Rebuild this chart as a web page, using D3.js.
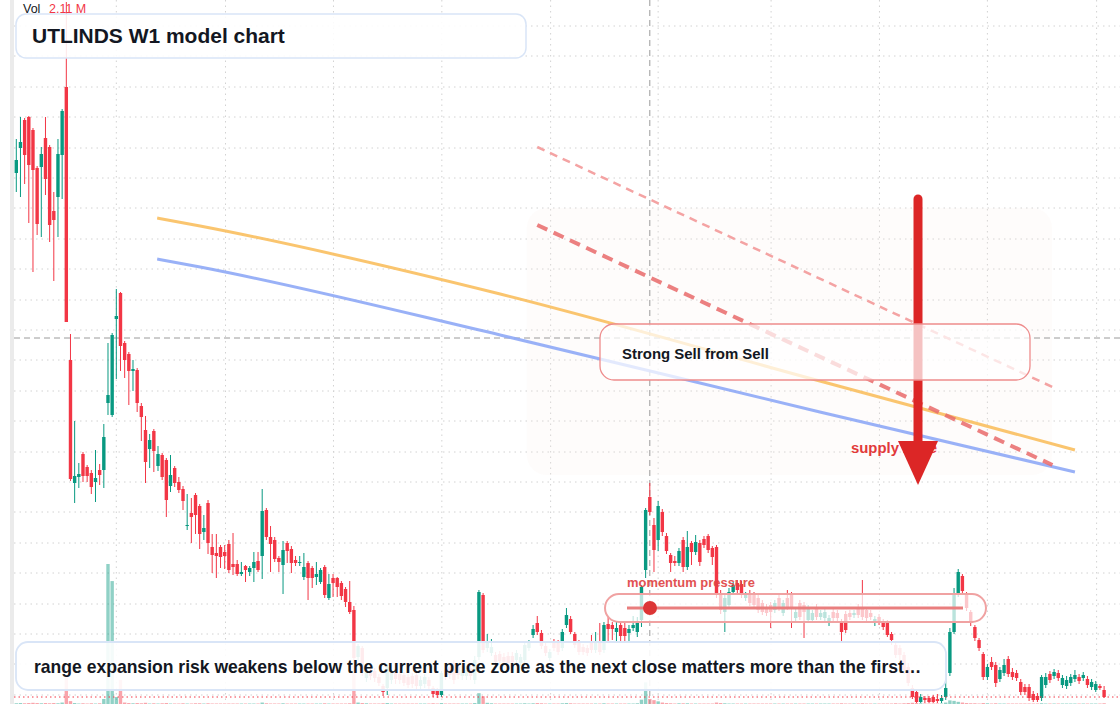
<!DOCTYPE html>
<html>
<head>
<meta charset="utf-8">
<script src="https://cdn.jsdelivr.net/npm/d3@7"></script>
<style>
html, body { margin: 0; padding: 0; background: #fff; }
svg { display: block; font-family: "Liberation Sans", Arial, sans-serif; }
</style>
</head>
<body>
<svg id="chart" width="1120" height="704"></svg>
<script>
// weekly candles
var opens = [
 53.1,55.6,58.4,58.7,57.4,53.6,53.7,56.6,55.7,49.3,
 50.7,54.9,61.7,34.4,22.1,22.7,25.0,23.7,23.1,22.2,
 23.4,23.4,30.1,28.9,38.5,41.1,36.1,35.0,33.3,33.4,
 29.8,27.4,25.5,27.3,23.8,24.9,24.4,21.8,23.6,22.2,
 21.5,17.8,19.1,20.9,19.8,17.2,20.1,15.7,15.1,15.7,
 15.2,16.0,14.0,14.0,13.0,13.8,13.2,13.6,14.3,14.8,
 19.4,16.7,16.4,14.6,13.9,16.1,15.5,14.4,14.1,12.7,
 14.1,13.6,12.7,12.2,13.7,10.6,12.6,12.6,12.1,11.5,
 10.2,9.4,4.7,5.6,2.6,3.2,3.3,2.7,1.8,1.6,
 2.4,3.1,3.0,2.9,2.7,2.8,2.9,1.8,2.0,2.4,
 1.6,1.4,0.9,3.4,3.7,4.1,3.7,2.8,2.8,3.6,
 2.4,4.7,10.9,5.6,5.1,4.9,5.0,4.7,4.8,4.8,
 4.4,4.1,4.4,5.6,6.9,8.1,7.1,5.8,4.6,6.2,
 6.1,5.6,7.9,8.5,7.0,6.1,5.7,5.6,6.2,5.4,
 6.2,5.4,8.0,7.9,7.2,7.9,7.6,7.1,7.6,7.2,
 8.4,13.4,20.7,17.9,16.4,19.2,16.8,14.9,14.3,14.1,
 16.4,13.7,16.1,15.2,16.1,16.5,16.8,15.6,15.7,11.1,
 9.2,9.9,11.2,12.1,12.0,10.6,11.1,10.9,10.6,10.1,
 9.7,9.9,9.4,10.6,9.1,10.6,10.9,8.6,10.1,9.9,
 8.4,8.4,9.7,8.7,8.6,8.1,9.2,9.1,8.2,9.0,
 9.1,8.9,9.7,9.7,9.4,9.1,8.1,8.7,8.2,8.1,
 7.0,5.9,5.6,4.9,3.7,1.6,1.2,0.2,0.6,0.6,
 0.7,0.5,0.3,0.7,3.1,7.2,11.1,12.8,11.0,9.2,
 7.7,6.4,5.0,2.7,4.2,3.9,2.5,3.1,4.5,3.2,
 3.1,2.2,1.7,1.7,1.0,0.8,0.6,1.9,3.0,2.8,
 3.1,1.9,1.8,2.1,2.5,2.7,2.6,2.5,1.7,1.4,
 1.8,1.4];
var highs = [
 56.5,58.7,58.6,58.8,57.6,53.8,55.7,58.7,55.9,51.2,
 56.5,59.5,70.2,37.0,28.3,24.1,25.2,23.9,23.4,25.4,
 24.0,28.0,36.1,37.1,41.5,41.2,36.3,35.2,34.4,33.6,
 30.1,28.8,27.0,27.5,25.8,25.1,24.6,24.9,23.8,22.7,
 21.8,21.0,20.6,21.1,20.0,18.9,20.4,17.0,17.0,15.9,
 15.9,16.4,17.1,14.4,14.2,13.9,13.8,15.2,15.2,21.5,
 19.6,17.8,16.7,14.8,16.3,16.3,15.8,14.8,14.8,15.1,
 14.3,13.8,14.2,13.6,13.9,13.0,13.0,12.7,12.3,11.7,
 12.3,9.8,6.0,5.8,3.6,3.6,3.6,3.0,2.0,4.0,
 3.4,3.4,3.3,3.2,3.0,3.1,3.2,2.8,3.0,2.7,
 1.8,1.6,3.3,4.0,4.0,4.4,4.0,3.8,3.8,4.0,
 4.8,11.4,11.1,7.0,6.5,5.2,5.3,5.1,5.2,5.2,
 5.4,5.0,6.1,6.4,7.9,8.8,7.4,6.1,5.5,6.5,
 6.4,7.5,9.6,8.8,7.2,6.4,6.0,5.9,6.9,7.2,
 8.1,8.2,8.7,8.2,8.2,8.2,8.1,7.9,8.8,8.7,
 11.9,19.6,22.1,18.6,20.3,19.5,17.1,15.1,14.8,15.6,
 16.7,17.3,16.3,16.9,16.4,16.8,17.0,15.8,15.9,11.4,
 10.9,11.6,12.2,12.4,12.3,11.2,11.4,11.2,10.9,10.4,
 10.0,10.2,10.4,10.9,10.4,11.4,11.2,9.5,10.4,10.2,
 9.9,9.4,10.0,9.4,9.5,8.9,9.5,9.4,8.5,9.3,
 9.4,9.4,10.0,12.4,9.7,9.4,8.8,9.0,8.5,8.4,
 7.2,6.1,5.9,5.2,4.1,1.9,1.4,1.0,0.8,0.8,
 0.9,1.0,0.9,3.0,7.6,11.6,13.5,13.0,11.2,9.4,
 7.9,6.6,5.2,4.0,4.7,4.2,3.7,4.5,4.8,3.6,
 3.4,2.5,2.0,2.0,1.3,1.1,2.9,3.1,3.3,3.5,
 3.4,2.9,2.8,3.0,3.4,3.0,3.2,2.8,2.5,2.3,
 2.0,1.8];
var lows = [
 51.2,50.7,52.0,48.1,43.2,46.9,46.7,50.9,46.2,42.3,
 46.7,50.5,38.2,22.3,20.1,21.6,22.2,22.2,21.0,20.2,
 21.9,21.6,28.9,28.7,32.5,33.3,32.6,29.9,31.3,29.2,
 26.3,22.1,23.6,23.2,23.3,22.4,18.7,21.2,21.7,21.1,
 19.4,17.4,16.1,17.0,15.5,16.4,15.0,13.1,12.6,13.6,
 13.5,13.1,12.9,12.8,12.8,12.2,12.8,12.2,13.2,12.5,
 16.4,13.2,14.2,13.2,11.0,14.1,13.1,13.8,13.8,12.4,
 10.4,11.6,11.9,12.0,10.6,10.4,10.7,10.7,10.4,9.7,
 9.0,4.0,4.4,2.8,2.2,2.4,2.2,1.8,0.8,0.9,
 2.0,2.0,2.0,1.8,1.6,1.6,1.4,1.5,1.6,1.4,
 0.7,0.6,0.7,2.4,2.5,2.0,2.5,2.4,2.4,2.4,
 2.0,4.4,5.1,5.2,4.8,3.8,3.9,3.7,3.7,3.8,
 4.1,3.8,4.1,5.3,6.6,6.9,5.5,4.8,4.3,5.3,
 4.9,5.3,7.6,7.0,5.6,4.9,4.9,4.8,5.1,5.1,
 4.9,5.1,6.2,6.4,6.2,6.3,6.3,6.2,7.3,6.7,
 7.7,12.6,18.9,13.2,15.3,16.8,15.0,13.2,13.8,13.8,
 13.2,13.4,13.9,14.9,13.8,15.6,15.1,13.9,10.6,9.0,
 7.2,9.6,10.9,11.1,10.6,10.3,9.8,9.6,9.1,8.9,
 8.8,7.6,9.1,9.3,8.8,9.4,7.6,8.3,8.4,6.6,
 8.1,8.1,8.4,8.4,8.3,7.8,8.3,8.3,6.2,7.1,
 8.4,8.6,8.6,8.4,8.3,8.4,7.8,7.9,7.4,6.7,
 5.9,4.6,4.4,3.0,1.8,0.5,0.1,0.1,0.1,0.1,
 0.1,0.1,0.1,0.4,2.8,7.0,10.7,11.0,9.3,7.8,
 6.3,5.3,2.4,2.4,3.4,1.7,2.2,2.8,2.7,2.4,
 2.3,0.9,0.9,0.3,0.2,0.2,0.3,1.6,2.1,2.5,
 2.3,1.6,1.5,1.8,2.2,2.0,2.3,1.6,1.4,1.2,
 1.4,0.6];
var closes = [
 54.4,56.2,54.9,53.9,53.4,48.0,55.0,52.5,47.9,48.4,
 55.0,59.3,38.2,22.5,22.8,23.0,22.8,22.8,21.7,22.6,
 22.9,26.7,30.9,36.9,38.8,35.8,34.4,33.3,33.5,30.1,
 28.7,24.2,26.4,25.3,25.0,22.7,20.4,22.9,22.1,21.4,
 20.3,17.9,18.7,18.9,17.0,17.6,16.1,14.9,14.8,14.7,
 14.8,13.4,13.7,13.0,13.2,13.4,13.6,14.2,13.4,19.3,
 16.7,16.0,14.5,14.2,15.4,15.3,14.1,14.1,14.2,13.7,
 12.6,12.6,13.0,13.4,10.9,12.0,12.1,11.7,10.8,10.2,
 9.2,4.6,5.8,3.2,3.2,2.8,2.6,2.1,1.2,3.7,
 3.1,2.5,2.4,2.1,1.9,2.0,1.8,2.4,2.7,1.8,
 1.0,0.9,3.1,2.8,2.9,2.4,2.9,3.4,3.4,2.8,
 4.4,11.2,5.4,6.2,5.7,4.2,4.3,4.2,4.1,4.2,
 5.1,4.7,5.9,6.2,7.5,7.2,5.8,5.1,5.2,5.6,
 5.2,7.2,8.9,7.2,5.9,5.2,5.2,5.1,5.4,6.2,
 5.2,7.9,7.5,7.5,7.6,6.8,6.8,7.5,7.9,8.2,
 11.7,19.4,19.2,15.4,19.8,17.2,15.3,14.1,14.1,15.3,
 13.7,15.7,15.2,16.2,14.2,15.9,15.4,14.7,10.9,9.4,
 10.6,11.2,11.9,11.4,10.9,10.9,10.1,9.9,9.4,9.2,
 9.1,9.2,10.1,9.6,10.1,9.7,9.6,9.2,8.7,9.2,
 9.6,9.1,8.7,9.1,9.2,8.6,8.6,8.6,7.2,7.4,
 8.7,9.1,8.9,8.7,8.6,8.7,8.5,8.2,7.7,6.9,
 6.4,4.9,4.9,3.4,2.1,0.7,0.2,0.7,0.4,0.2,
 0.2,0.3,0.6,1.6,7.2,10.9,13.2,11.3,9.6,8.1,
 6.6,5.6,2.7,3.7,3.7,2.1,3.4,3.9,3.0,2.7,
 2.6,1.2,1.2,0.6,0.4,0.4,2.7,2.7,2.4,3.2,
 2.6,2.6,2.4,2.7,2.9,2.3,2.9,1.9,2.2,2.0,
 1.6,0.7];
// volume in millions
var volumes = [
 0.3,0.4,0.3,0.4,0.5,0.4,0.3,0.4,0.3,0.4,
 0.3,0.6,11.2,1.2,0.4,0.2,0.3,0.2,0.3,0.2,
 0.3,2.1,58.2,51.1,2.9,10.0,0.6,0.4,0.3,0.4,
 0.3,0.5,0.2,0.3,0.2,0.3,0.4,0.2,0.2,0.2,
 0.3,0.2,0.2,0.3,0.3,0.2,0.3,0.2,0.2,0.2,
 0.2,0.2,0.2,0.2,0.2,0.2,0.2,0.2,0.2,0.6,
 0.3,0.2,0.2,0.2,0.3,0.2,0.2,0.2,0.2,0.2,
 0.2,0.2,0.2,0.2,0.3,0.2,0.2,0.2,0.2,0.2,
 0.3,16.0,0.6,0.4,0.3,0.2,0.2,0.2,0.3,0.4,
 0.2,0.2,0.2,0.2,0.2,0.2,0.2,0.2,0.2,0.2,
 0.3,0.2,0.4,0.2,0.2,0.2,0.2,0.2,0.2,0.2,
 0.4,4.5,3.2,0.5,0.3,0.2,0.2,0.2,0.2,0.2,
 0.2,0.2,0.3,0.2,0.3,0.4,0.3,0.2,0.2,0.2,
 0.2,0.3,0.4,0.3,0.2,0.2,0.2,0.2,0.2,0.2,
 0.2,0.3,0.2,0.2,0.2,0.2,0.2,0.2,0.2,0.3,
 1.8,9.0,2.11,1.6,1.1,0.6,0.4,0.3,0.2,0.3,
 0.3,0.3,0.2,0.2,0.2,0.2,0.2,0.2,0.6,0.4,
 0.3,0.2,0.2,0.2,0.2,0.2,0.2,0.2,0.2,0.2,
 0.2,0.2,0.2,0.2,0.2,0.2,0.2,0.2,0.2,0.2,
 0.2,0.2,0.2,0.2,0.2,0.2,0.2,0.2,0.3,0.2,
 0.2,0.2,0.2,0.3,0.2,0.2,0.2,0.2,0.2,0.2,
 0.2,0.3,0.2,0.3,0.4,0.5,0.4,0.3,0.2,0.2,
 0.2,0.2,0.2,0.6,1.5,1.3,0.9,0.6,0.4,0.3,
 0.3,0.2,0.4,0.3,0.2,0.3,0.2,0.2,0.2,0.2,
 0.2,0.2,0.2,0.2,0.2,0.2,0.3,0.2,0.2,0.2,
 0.2,0.2,0.2,0.2,0.2,0.2,0.2,0.2,0.2,0.2,
 0.2,0.3];

// grid levels (price) and grid weeks (candle index)
var gridPrices = [67.8,64.8,61.7,58.7,55.6,52.6,49.6,46.5,43.5,40.4,37.4,34.4,31.3,28.3,25.2,22.2,19.2,16.1,13.1,10.0,7.0,4.0,0.9];
var gridWeeks = [24.0,50.2,76.1,102.1,128.2,154.0,181.1,207.1,233.0,259.2];

// model curves: key points (candle index, price)
var curveIdx = [33.8, 44.1, 116.1, 192.8, 254.0];
var fastModel = [48.6, 47.8, 41.0, 32.3, 25.4];
var slowModel = [44.5, 43.7, 36.9, 29.2, 23.2];

// supply channel: [index0, price0, index1, price1]
var channelUpper = [125.0, 55.7, 248.6, 31.7];
var channelLower = [125.0, 47.9, 248.6, 23.9];
var zoneBox = [122.5, 49.6, 248.5, 22.9]; // idx from, price top, idx to, price bottom

// signal arrow: index, from price, head base price, tip price
var signal = {i: 216.35, from: 50.5, base: 26.3, tip: 21.9};
var crossIdx = 152, crossPrice = 36.6;

var W = 1120, H = 704;
var n = opens.length;
var upCol = "#089981", dnCol = "#f23645";
var svg = d3.select("#chart");

var x = d3.scaleLinear().domain([0, n - 1]).range([16.3, 1104.1]);
var y = d3.scaleLinear().domain([0, 70.4]).range([H, 0]);
var vh = d3.scaleLinear().domain([0, d3.max(volumes)]).range([0, 140]);

svg.append("rect").attr("width", W).attr("height", H).attr("fill", "#fff");
svg.append("rect").attr("x", 10).attr("y", 0).attr("width", 4).attr("height", H).attr("fill", "#ebebeb");

// grid
var grid = svg.append("g").attr("stroke", "#d2d2d2").attr("stroke-dasharray", "1.5,4");
grid.selectAll("line.h").data(gridPrices).enter().append("line")
    .attr("class", "h")
    .attr("x1", 14).attr("x2", W)
    .attr("y1", function(d) { return y(d); }).attr("y2", function(d) { return y(d); });
grid.selectAll("line.v").data(gridWeeks).enter().append("line")
    .attr("class", "v")
    .attr("y1", 0).attr("y2", H)
    .attr("x1", function(d) { return x(d); }).attr("x2", function(d) { return x(d); });

// faint zone
svg.append("rect")
    .attr("x", x(zoneBox[0])).attr("y", y(zoneBox[1]))
    .attr("width", x(zoneBox[2]) - x(zoneBox[0]))
    .attr("height", y(zoneBox[3]) - y(zoneBox[1]))
    .attr("rx", 20)
    .attr("fill", "#fbeee4").attr("opacity", 0.16);

var bars = d3.range(n).map(function(i) {
  return {i: i, o: opens[i], h: highs[i], l: lows[i], c: closes[i], v: volumes[i]};
});

// volume
svg.append("g").selectAll("rect").data(bars).enter().append("rect")
    .attr("x", function(d) { return x(d.i) - 1.7; })
    .attr("width", 3.4)
    .attr("y", function(d) { return H - vh(d.v); })
    .attr("height", function(d) { return vh(d.v); })
    .attr("fill", function(d) { return d.c >= d.o ? upCol : dnCol; })
    .attr("opacity", 0.45);

// crosshair
svg.append("line").attr("x1", 14).attr("x2", W)
    .attr("y1", y(crossPrice)).attr("y2", y(crossPrice))
    .attr("stroke", "#9a9a9a").attr("stroke-dasharray", "6,4");
svg.append("line").attr("x1", x(crossIdx)).attr("x2", x(crossIdx))
    .attr("y1", 0).attr("y2", H)
    .attr("stroke", "#9a9a9a").attr("stroke-dasharray", "6,4");

// candles
var cg = svg.append("g");
var candle = cg.selectAll("g").data(bars).enter().append("g")
    .attr("fill", function(d) { return d.c >= d.o ? upCol : dnCol; })
    .attr("stroke", function(d) { return d.c >= d.o ? upCol : dnCol; });
candle.append("line")
    .attr("x1", function(d) { return x(d.i); }).attr("x2", function(d) { return x(d.i); })
    .attr("y1", function(d) { return y(d.h); }).attr("y2", function(d) { return y(d.l); })
    .attr("stroke-width", 1);
candle.append("rect")
    .attr("stroke", "none")
    .attr("x", function(d) { return x(d.i) - 1.7; })
    .attr("width", 3.4)
    .attr("y", function(d) { return y(Math.max(d.o, d.c)); })
    .attr("height", function(d) { return Math.max(1, Math.abs(y(d.o) - y(d.c))); });

// current price line
svg.append("line").attr("x1", 14).attr("x2", W)
    .attr("y1", y(closes[n - 1])).attr("y2", y(closes[n - 1]))
    .attr("stroke", dnCol).attr("stroke-dasharray", "1.5,3");

// model curves
var line = d3.line()
    .x(function(d) { return x(d[0]); })
    .y(function(d) { return y(d[1]); })
    .curve(d3.curveMonotoneX);
svg.append("path").datum(d3.zip(curveIdx, fastModel))
    .attr("d", line).attr("fill", "none")
    .attr("stroke", "#f9bf5f").attr("stroke-width", 3).attr("opacity", 0.9);
svg.append("path").datum(d3.zip(curveIdx, slowModel))
    .attr("d", line).attr("fill", "none")
    .attr("stroke", "#8ea9f6").attr("stroke-width", 3).attr("opacity", 0.9);

// channel
svg.append("line")
    .attr("x1", x(channelUpper[0])).attr("y1", y(channelUpper[1]))
    .attr("x2", x(channelUpper[2])).attr("y2", y(channelUpper[3]))
    .attr("stroke", "#f4a3a3").attr("stroke-width", 2.5).attr("stroke-dasharray", "8,6");
svg.append("line")
    .attr("x1", x(channelLower[0])).attr("y1", y(channelLower[1]))
    .attr("x2", x(channelLower[2])).attr("y2", y(channelLower[3]))
    .attr("stroke", "#e96b6b").attr("stroke-width", 4).attr("stroke-dasharray", "11,7").attr("opacity", 0.85);

function fitText(t, w) {
  var len = t.node().getComputedTextLength();
  var fs = parseFloat(t.attr("font-size"));
  t.attr("font-size", (fs * w / len).toFixed(2));
}

fitText(svg.append("text").attr("x", 851).attr("y", 453)
    .attr("font-size", 14).attr("font-weight", "bold").attr("fill", "#e23a3a")
    .text("supply zone"), 86);

// signal arrow
var ax = x(signal.i);
svg.append("line").attr("x1", ax).attr("x2", ax)
    .attr("y1", y(signal.from)).attr("y2", y(signal.base) + 2)
    .attr("stroke", "#dc2626").attr("stroke-width", 9).attr("stroke-linecap", "round");
svg.append("path")
    .attr("d", "M" + (ax - 20) + "," + y(signal.base) + "L" + (ax + 20) + "," + y(signal.base) + "L" + ax + "," + y(signal.tip) + "Z")
    .attr("fill", "#dc2626");

// signal label box
svg.append("rect").attr("x", 600).attr("y", 324).attr("width", 430).attr("height", 56).attr("rx", 14)
    .attr("fill", "#fff").attr("fill-opacity", 0.72)
    .attr("stroke", "#ee8c8c").attr("stroke-width", 1.3);
fitText(svg.append("text").attr("x", 622).attr("y", 359)
    .attr("font-size", 15).attr("font-weight", "bold").attr("fill", "#131722")
    .text("Strong Sell from Sell"), 147);

// momentum gauge
fitText(svg.append("text").attr("x", 627).attr("y", 587)
    .attr("font-size", 13).attr("font-weight", "bold").attr("fill", "#e04444").attr("opacity", 0.92)
    .text("momentum pressure"), 128);
svg.append("rect").attr("x", 605).attr("y", 594).attr("width", 381).attr("height", 28).attr("rx", 14)
    .attr("fill", "#fff").attr("fill-opacity", 0.72)
    .attr("stroke", "#f0a2a2").attr("stroke-width", 2);
svg.append("line").attr("x1", 627).attr("x2", 963).attr("y1", 608).attr("y2", 608)
    .attr("stroke", "#e97e7e").attr("stroke-width", 3.2);
svg.append("circle").attr("cx", 650).attr("cy", 608).attr("r", 7).attr("fill", "#dc3636");

// title box
svg.append("rect").attr("x", 16).attr("y", 14).attr("width", 510).attr("height", 44).attr("rx", 10)
    .attr("fill", "#fff").attr("fill-opacity", 0.88)
    .attr("stroke", "#d9e5f7").attr("stroke-width", 1.5);
fitText(svg.append("text").attr("x", 32).attr("y", 43.3)
    .attr("font-size", 21).attr("font-weight", "bold").attr("fill", "#131722")
    .text("UTLINDS W1 model chart"), 253);

// note box
svg.append("rect").attr("x", 16).attr("y", 642).attr("width", 930).attr("height", 48).attr("rx", 12)
    .attr("fill", "#fff").attr("fill-opacity", 0.9)
    .attr("stroke", "#d9e5f7").attr("stroke-width", 1.8);
fitText(svg.append("text").attr("x", 34).attr("y", 672.5)
    .attr("font-size", 16).attr("font-weight", "bold").attr("fill", "#131722")
    .text("range expansion risk weakens below the current price zone as the next close matters more than the first\u2026"), 888);

// volume legend
var vl = svg.append("text").attr("x", 23).attr("y", 13).attr("font-size", 12.5);
vl.append("tspan").attr("fill", "#131722").text("Vol");
vl.append("tspan").attr("x", 49).attr("fill", dnCol).text(volumes[crossIdx].toFixed(2) + " M");
</script>
</body>
</html>
